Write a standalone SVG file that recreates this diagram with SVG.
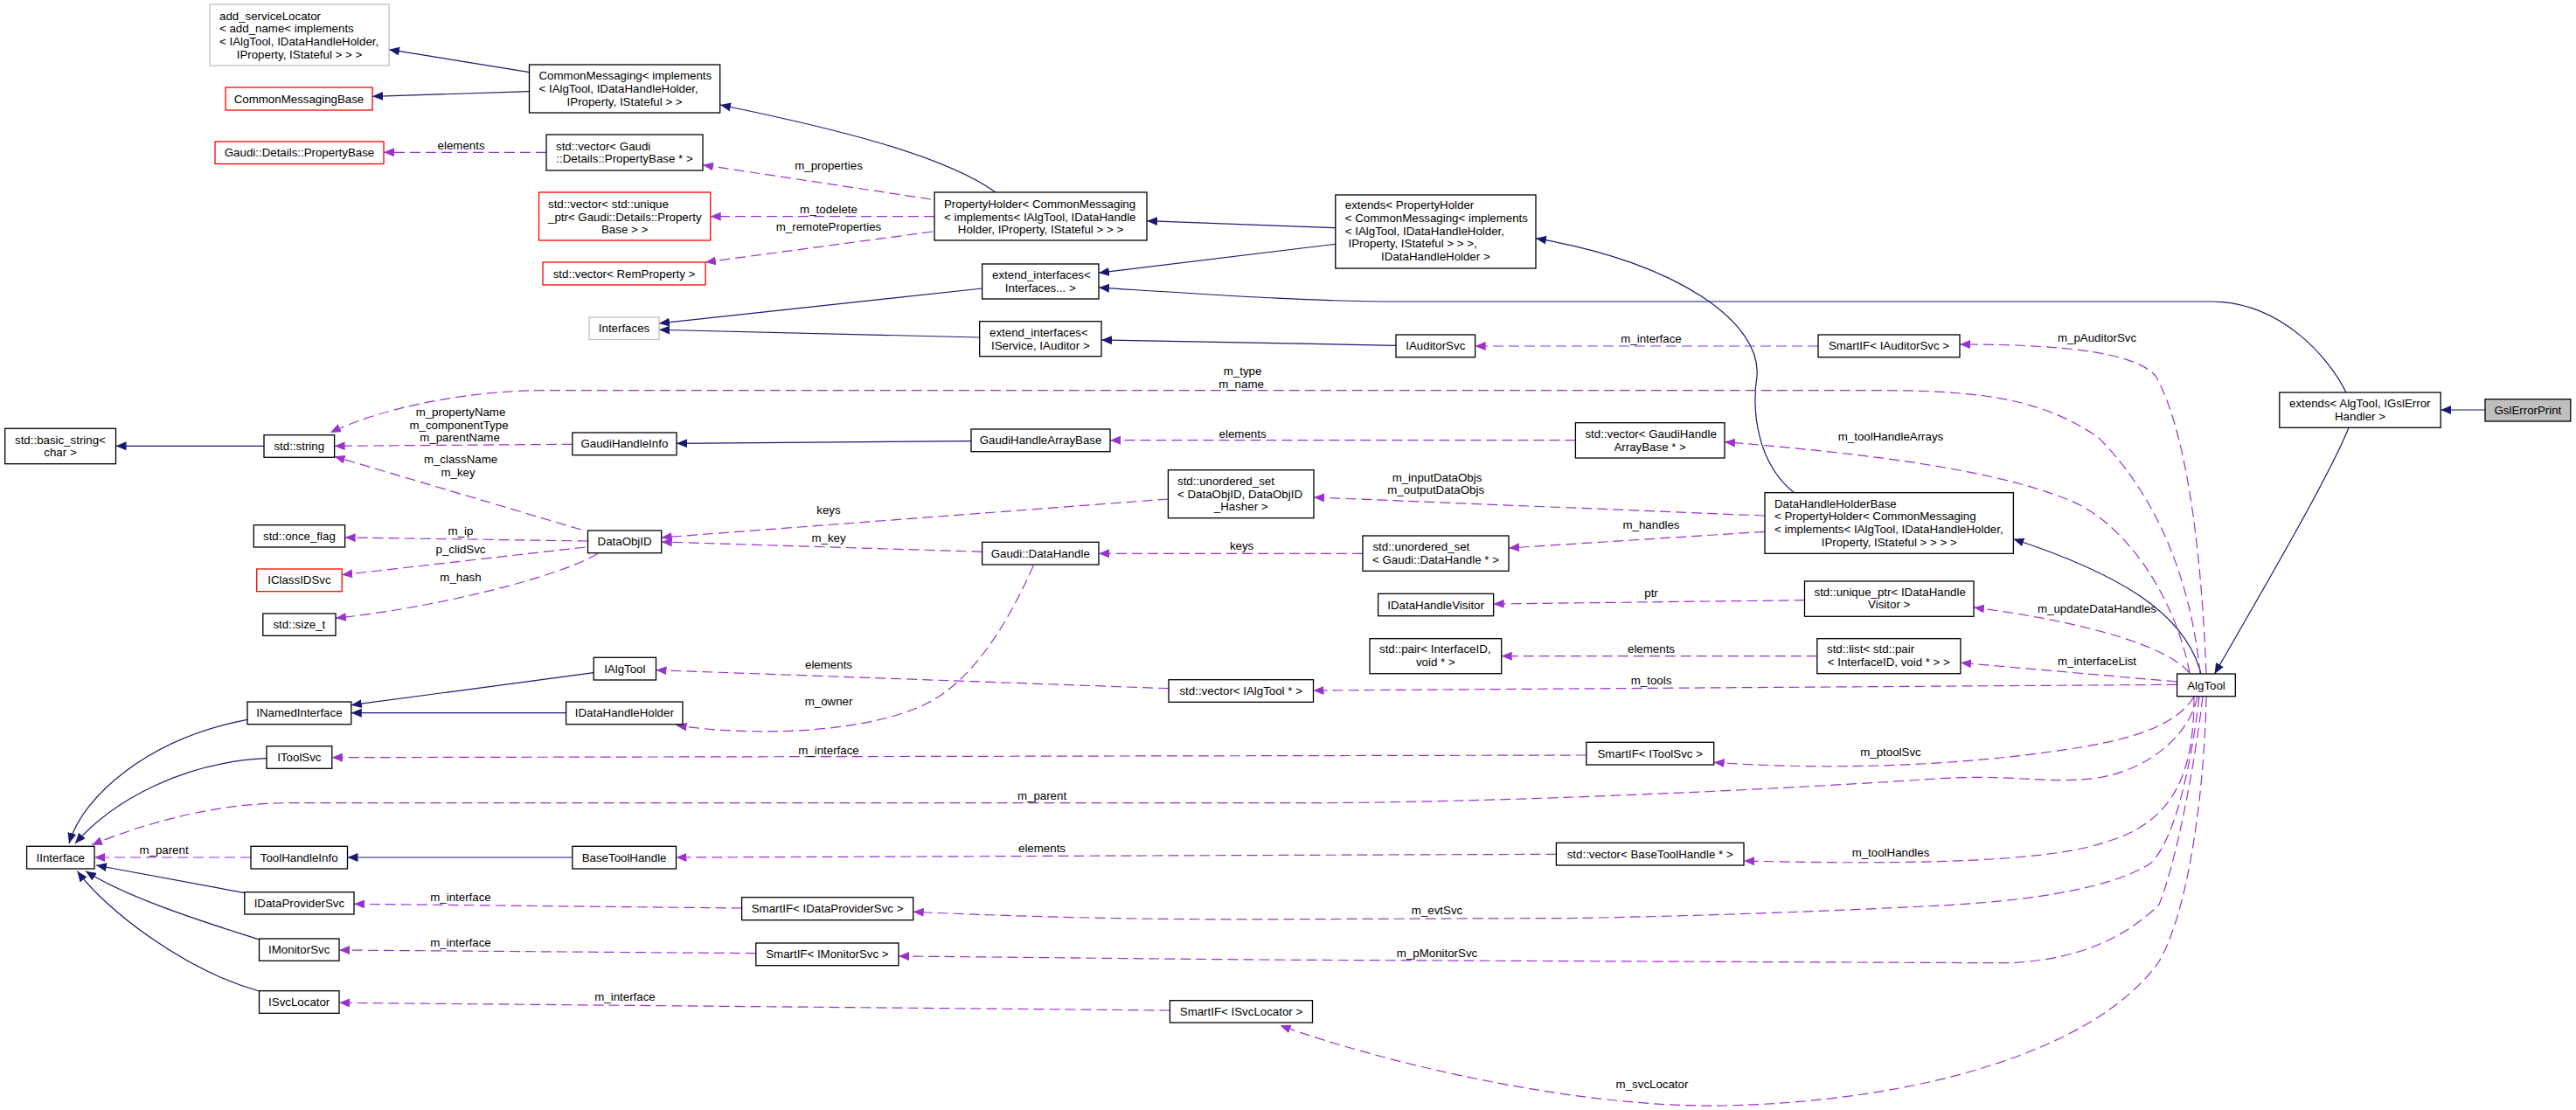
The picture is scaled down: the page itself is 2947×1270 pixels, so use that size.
<svg xmlns="http://www.w3.org/2000/svg" width="2947" height="1270" viewBox="0 0 2947 1270">
<style>
rect{fill:#fff;stroke:#000;stroke-width:1.3}
.r rect{stroke:#f00}
.g rect{stroke:#bfbfbf}
.s rect{fill:#bfbfbf}
text{font-family:"Liberation Sans",Arial,sans-serif;font-size:13.3px;fill:#000}
.c{text-anchor:middle}
.i{fill:none;stroke:#191970;stroke-width:1.2;marker-end:url(#ai)}
.u{fill:none;stroke:#9a32cd;stroke-width:1.2;stroke-dasharray:12,6;marker-end:url(#au)}
</style>
<defs>
<marker id="ai" viewBox="0 0 12 10" refX="12" refY="5" markerWidth="12" markerHeight="10" markerUnits="userSpaceOnUse" orient="auto"><path d="M0,0L12,5L0,10z" fill="#191970"/></marker>
<marker id="au" viewBox="0 0 12 10" refX="12" refY="5" markerWidth="12" markerHeight="10" markerUnits="userSpaceOnUse" orient="auto"><path d="M0,0L12,5L0,10z" fill="#9a32cd"/></marker>
</defs>
<rect x="0" y="0" width="2947" height="1270" style="fill:#fff;stroke:none"/>
<g id="edges">
<path class="i" d="M2843,469L2792.2,469"/>
<path class="i" d="M2687,489.3C2665,545 2580,690 2533.5,771"/>
<path class="i" d="M2518,771C2500,700 2420,655 2303.4,616.7"/>
<path class="i" d="M2052.5,563.7C2010,530 2004,470 2010,430C2015,370 1920,300 1757,272.7"/>
<path class="i" d="M1527.8,260.7L1312,252.7"/>
<path class="i" d="M1527.8,279.3L1257,312.3"/>
<path class="i" d="M1139,220C1080,178 960,148 824,120"/>
<path class="i" d="M605.5,82.7L445,56.7"/>
<path class="i" d="M605.5,104.7L426,110.3"/>
<path class="i" d="M2684,449C2665,410 2610,345 2528.7,345L1599.6,345C1500,345 1400,338 1257,329"/>
<path class="i" d="M1123.6,330L754,370"/>
<path class="i" d="M1120.7,386L754,377.3"/>
<path class="i" d="M1597,395.3L1260,389"/>
<path class="i" d="M302,510.3L132.5,510.3"/>
<path class="i" d="M1111,504.7L774,507.3"/>
<path class="i" d="M679.2,769.7L401.8,806.7"/>
<path class="i" d="M647.6,815.7L401.8,815.7"/>
<path class="i" d="M283,823.3C170,845 95,910 79,965"/>
<path class="i" d="M305,867.7C210,872 130,915 86,965"/>
<path class="i" d="M280,1021.7L110,990"/>
<path class="i" d="M296.5,1075C250,1060 150,1030 98,996.7"/>
<path class="i" d="M296.5,1134C210,1110 120,1040 88.5,996.7"/>
<path class="i" d="M654.8,981L397.5,981"/>

<path class="u" d="M625,174.3L439,174.3"/>
<text class="c" x="527.6" y="171">elements</text>
<path class="u" d="M1065,228L804,188.7"/>
<text class="c" x="948" y="193.5">m_properties</text>
<path class="u" d="M1069,247.7L812.7,247.7"/>
<text class="c" x="948" y="243.8">m_todelete</text>
<path class="u" d="M1067,265L807,300"/>
<text class="c" x="948" y="263.8">m_remoteProperties</text>
<path class="u" d="M2080,396L1687.6,396"/>
<text class="c" x="1889" y="392">m_interface</text>
<path class="u" d="M2524,771C2518,620 2500,490 2466,430C2440,400 2340,394 2242,394"/>
<text class="c" x="2399" y="391">m_pAuditorSvc</text>
<path class="u" d="M2517,771C2505,650 2460,560 2400,500C2340,460 2280,446.7 2150,446.7L622,446.7C540,446.7 440,465 377.9,495"/>
<text class="c" x="1421.6" y="429.2">m_type</text>
<text class="c" x="1420" y="443.5">m_name</text>
<path class="u" d="M654.8,508.3L382.6,510.3"/>
<text class="c" x="527" y="476.2">m_propertyName</text>
<text class="c" x="525" y="491.2">m_componentType</text>
<text class="c" x="526" y="505.2">m_parentName</text>
<path class="u" d="M664.8,606L382.6,522.3"/>
<text class="c" x="527" y="529.5">m_className</text>
<text class="c" x="524" y="544.5">m_key</text>
<path class="u" d="M672.5,619L394.6,615"/>
<text class="c" x="527" y="611.5">m_ip</text>
<path class="u" d="M669.6,626L391.2,657.7"/>
<text class="c" x="527" y="633.2">p_clidSvc</text>
<path class="u" d="M684,633.3C640,660 500,695 384,707.3"/>
<text class="c" x="527" y="664.8">m_hash</text>
<path class="u" d="M1802.4,503.7L1270,503.7"/>
<text class="c" x="1421.6" y="500.5">elements</text>
<path class="u" d="M2505,770C2490,690 2440,610 2380,578C2300,540 2150,520 1973,505.7"/>
<text class="c" x="2163" y="503.5">m_toolHandleArrays</text>
<path class="u" d="M1336.4,571L756.7,615"/>
<text class="c" x="948" y="588.2">keys</text>
<path class="u" d="M1123.6,631.3L756.7,620"/>
<text class="c" x="948" y="619.5">m_key</text>
<path class="u" d="M2019,590L1503,569"/>
<text class="c" x="1644" y="551.2">m_inputDataObjs</text>
<text class="c" x="1642.6" y="565.2">m_outputDataObjs</text>
<path class="u" d="M1559,633.3L1257,633.3"/>
<text class="c" x="1420.6" y="629.2">keys</text>
<path class="u" d="M2019,608.3L1726,627"/>
<text class="c" x="1889" y="605.2">m_handles</text>
<path class="u" d="M1182.4,646.7C1150,720 1110,780 1060,805C1000,835 880,845 773.5,830"/>
<text class="c" x="948" y="807.2">m_owner</text>
<path class="u" d="M1337,787.7L750.5,766.7"/>
<text class="c" x="948" y="765.2">elements</text>
<path class="u" d="M2064.5,686.7L1708.6,691"/>
<text class="c" x="1889" y="683.2">ptr</text>
<path class="u" d="M2505,770C2480,740 2390,712 2258,695"/>
<text class="c" x="2399" y="701.2">m_updateDataHandles</text>
<path class="u" d="M2078.8,750.7L1717.7,750.7"/>
<text class="c" x="1889" y="747.2">elements</text>
<path class="u" d="M2490.6,780L2243,758.3"/>
<text class="c" x="2399" y="761.2">m_interfaceList</text>
<path class="u" d="M2490.6,783.3L1502.5,790"/>
<text class="c" x="1889" y="783.2">m_tools</text>
<path class="u" d="M1814.8,864L379.8,866.7"/>
<text class="c" x="948" y="862.8">m_interface</text>
<path class="u" d="M2510,797C2490,830 2440,845 2380,855C2300,868 2150,885 1960.7,872.3"/>
<text class="c" x="2163" y="865.2">m_ptoolSvc</text>
<path class="u" d="M2514,797C2505,840 2460,880 2400,890C2340,898 2300,884 2200,892C2000,905 1700,918.7 1480,918.7L330,918.7C250,918.7 170,940 105,966.7"/>
<text class="c" x="1192" y="915.2">m_parent</text>
<path class="u" d="M1780.4,977.3L773.5,981"/>
<text class="c" x="1192" y="975.2">elements</text>
<path class="u" d="M2510,797C2510,880 2490,940 2410,963C2350,985 2200,990 1995,985"/>
<text class="c" x="2163" y="979.5">m_toolHandles</text>
<path class="u" d="M287,981L108,981"/>
<text class="c" x="187.5" y="977.2">m_parent</text>
<path class="u" d="M848.6,1039L405,1034.3"/>
<text class="c" x="527" y="1031.2">m_interface</text>
<path class="u" d="M2516,797C2505,890 2485,965 2460,988C2410,1020 2300,1033 2200,1037C2100,1042 1950,1048 1800,1050.5L1480,1051.7C1300,1053 1150,1048 1044.7,1043.3"/>
<text class="c" x="1644" y="1045.5">m_evtSvc</text>
<path class="u" d="M864.8,1090.7L388,1087"/>
<text class="c" x="527" y="1083.2">m_interface</text>
<path class="u" d="M2520,797C2510,880 2490,985 2470,1035C2420,1085 2350,1102 2286,1101.7L1480,1098.3C1300,1097 1150,1095 1028,1094"/>
<text class="c" x="1644" y="1095.2">m_pMonitorSvc</text>
<path class="u" d="M1338.4,1156L388,1147.3"/>
<text class="c" x="715" y="1145.2">m_interface</text>
<path class="u" d="M2524,797C2522,900 2505,1040 2470,1100C2400,1200 2200,1260 1972.6,1265C1800,1268 1580,1215 1464.6,1173.3"/>
<text class="c" x="1890" y="1244.5">m_svcLocator</text>
</g>

<g id="GslErrorPrint" class="s"><rect x="2843" y="456.7" width="97.8" height="25.3"/><text class="c" x="2891.9" y="473.5">GslErrorPrint</text></g>
<g id="extends_AlgTool"><rect x="2607.8" y="449" width="184.4" height="40.3"/><text x="2619" y="466">extends&lt; AlgTool, IGslError</text><text class="c" x="2700" y="480.7">Handler &gt;</text></g>
<g id="AlgTool"><rect x="2490.6" y="771" width="66.7" height="25.7"/><text class="c" x="2524" y="788.5">AlgTool</text></g>
<g id="DataHandleHolderBase"><rect x="2019" y="563.7" width="284.4" height="69.6"/><text x="2030" y="580.5">DataHandleHolderBase</text><text x="2030" y="595.2">&lt; PropertyHolder&lt; CommonMessaging</text><text x="2030" y="609.9">&lt; implements&lt; IAlgTool, IDataHandleHolder,</text><text class="c" x="2161.2" y="624.6">IProperty, IStateful &gt; &gt; &gt; &gt;</text></g>
<g id="extends_PropertyHolder"><rect x="1527.8" y="223" width="229.2" height="84"/><text x="1538.8" y="239.2">extends&lt; PropertyHolder</text><text x="1538.8" y="253.9">&lt; CommonMessaging&lt; implements</text><text x="1538.8" y="268.6">&lt; IAlgTool, IDataHandleHolder,</text><text x="1542.5" y="283.3">IProperty, IStateful &gt; &gt; &gt;,</text><text class="c" x="1642.4" y="298">IDataHandleHolder &gt;</text></g>
<g id="PropertyHolder"><rect x="1069" y="220" width="243" height="55"/><text x="1080" y="237.8">PropertyHolder&lt; CommonMessaging</text><text x="1080" y="252.5">&lt; implements&lt; IAlgTool, IDataHandle</text><text class="c" x="1190.5" y="267.2">Holder, IProperty, IStateful &gt; &gt; &gt;</text></g>
<g id="CommonMessaging"><rect x="605.5" y="74" width="218.2" height="55"/><text x="616.5" y="91.3">CommonMessaging&lt; implements</text><text x="616.5" y="106">&lt; IAlgTool, IDataHandleHolder,</text><text class="c" x="714.6" y="120.7">IProperty, IStateful &gt; &gt;</text></g>
<g id="add_serviceLocator" class="g"><rect x="240" y="5" width="205" height="70"/><text x="251" y="22.5">add_serviceLocator</text><text x="251" y="37.2">&lt; add_name&lt; implements</text><text x="251" y="51.8">&lt; IAlgTool, IDataHandleHolder,</text><text class="c" x="342.5" y="66.5">IProperty, IStateful &gt; &gt; &gt;</text></g>
<g id="CommonMessagingBase" class="r"><rect x="258" y="100" width="168" height="26"/><text class="c" x="342" y="117.5">CommonMessagingBase</text></g>
<g id="PropertyBase" class="r"><rect x="246" y="162" width="193" height="25.5"/><text class="c" x="342.5" y="179.3">Gaudi::Details::PropertyBase</text></g>
<g id="vector_PropertyBase"><rect x="625" y="154" width="179" height="41"/><text x="636" y="171.7">std::vector&lt; Gaudi</text><text class="c" x="714.5" y="186.3">::Details::PropertyBase * &gt;</text></g>
<g id="vector_unique_ptr" class="r"><rect x="616.5" y="220" width="196.2" height="55"/><text x="627" y="237.8">std::vector&lt; std::unique</text><text x="627" y="252.5">_ptr&lt; Gaudi::Details::Property</text><text class="c" x="714.6" y="267.2">Base &gt; &gt;</text></g>
<g id="vector_RemProperty" class="r"><rect x="621" y="300" width="186" height="26"/><text class="c" x="714" y="317.5">std::vector&lt; RemProperty &gt;</text></g>
<g id="Interfaces" class="g"><rect x="674" y="363" width="80" height="25.5"/><text class="c" x="714" y="380.3">Interfaces</text></g>
<g id="extend_interfaces_Interfaces"><rect x="1123.6" y="302" width="133.4" height="40"/><text x="1135" y="319.2">extend_interfaces&lt;</text><text class="c" x="1190.3" y="333.8">Interfaces... &gt;</text></g>
<g id="extend_interfaces_IService"><rect x="1120.7" y="367.7" width="139.3" height="40"/><text x="1132" y="384.8">extend_interfaces&lt;</text><text class="c" x="1190.3" y="399.5">IService, IAuditor &gt;</text></g>
<g id="IAuditorSvc"><rect x="1597" y="383" width="90.6" height="25.7"/><text class="c" x="1642.3" y="400.3">IAuditorSvc</text></g>
<g id="SmartIF_IAuditorSvc"><rect x="2080" y="383" width="162" height="25.7"/><text class="c" x="2161" y="400.3">SmartIF&lt; IAuditorSvc &gt;</text></g>
<g id="basic_string"><rect x="5.7" y="490.3" width="126.8" height="40.4"/><text x="17" y="507.7">std::basic_string&lt;</text><text class="c" x="69" y="522.3">char &gt;</text></g>
<g id="std_string"><rect x="302" y="497.7" width="80.6" height="25.6"/><text class="c" x="342.3" y="515">std::string</text></g>
<g id="GaudiHandleInfo"><rect x="654.8" y="495" width="119.2" height="25.7"/><text class="c" x="714.4" y="512.3">GaudiHandleInfo</text></g>
<g id="GaudiHandleArrayBase"><rect x="1111" y="491" width="159" height="25.7"/><text class="c" x="1190.5" y="508.3">GaudiHandleArrayBase</text></g>
<g id="vector_GaudiHandleArrayBase"><rect x="1802.4" y="483.7" width="170.6" height="40.3"/><text x="1813.4" y="501">std::vector&lt; GaudiHandle</text><text class="c" x="1887.7" y="515.7">ArrayBase * &gt;</text></g>
<g id="unordered_set_DataObjID"><rect x="1336.4" y="537.7" width="166.6" height="55"/><text x="1347" y="555">std::unordered_set</text><text x="1347" y="569.7">&lt; DataObjID, DataObjID</text><text class="c" x="1419.7" y="584.4">_Hasher &gt;</text></g>
<g id="DataObjID"><rect x="672.5" y="607" width="84.2" height="25.7"/><text class="c" x="714.6" y="624.3">DataObjID</text></g>
<g id="once_flag"><rect x="290.3" y="600.7" width="104.3" height="25.3"/><text class="c" x="342.4" y="617.8">std::once_flag</text></g>
<g id="IClassIDSvc" class="r"><rect x="293.7" y="651" width="97.5" height="25.7"/><text class="c" x="342.4" y="668.3">IClassIDSvc</text></g>
<g id="size_t"><rect x="300.8" y="702" width="83.2" height="25.3"/><text class="c" x="342.4" y="719.2">std::size_t</text></g>
<g id="DataHandle"><rect x="1123.6" y="620.3" width="133.4" height="25.7"/><text class="c" x="1190.3" y="637.6">Gaudi::DataHandle</text></g>
<g id="unordered_set_DataHandle"><rect x="1559" y="613" width="167" height="40.3"/><text x="1570.4" y="630.3">std::unordered_set</text><text class="c" x="1642.5" y="645">&lt; Gaudi::DataHandle * &gt;</text></g>
<g id="IDataHandleVisitor"><rect x="1576.6" y="679.3" width="132" height="25.4"/><text class="c" x="1642.6" y="696.5">IDataHandleVisitor</text></g>
<g id="unique_ptr_IDataHandleVisitor"><rect x="2064.5" y="665" width="193.5" height="40.3"/><text x="2075.5" y="681.6">std::unique_ptr&lt; IDataHandle</text><text class="c" x="2161.2" y="696.3">Visitor &gt;</text></g>
<g id="pair_InterfaceID"><rect x="1567" y="730.7" width="150.7" height="40"/><text x="1578" y="747.3">std::pair&lt; InterfaceID,</text><text class="c" x="1642.3" y="762">void * &gt;</text></g>
<g id="list_pair"><rect x="2078.8" y="730.7" width="164.1" height="40"/><text x="2090" y="747.3">std::list&lt; std::pair</text><text class="c" x="2160.8" y="762">&lt; InterfaceID, void * &gt; &gt;</text></g>
<g id="IAlgTool"><rect x="679.2" y="752.3" width="71.3" height="25.7"/><text class="c" x="714.8" y="769.6">IAlgTool</text></g>
<g id="vector_IAlgTool"><rect x="1337" y="777.7" width="165.5" height="25.6"/><text class="c" x="1419.7" y="795">std::vector&lt; IAlgTool * &gt;</text></g>
<g id="INamedInterface"><rect x="283" y="803" width="118.8" height="25.7"/><text class="c" x="342.4" y="820.3">INamedInterface</text></g>
<g id="IDataHandleHolder"><rect x="647.6" y="803" width="133.4" height="25.7"/><text class="c" x="714.3" y="820.3">IDataHandleHolder</text></g>
<g id="IToolSvc"><rect x="305" y="853.7" width="74.8" height="25.6"/><text class="c" x="342.4" y="871">IToolSvc</text></g>
<g id="SmartIF_IToolSvc"><rect x="1814.8" y="849.3" width="145.9" height="25.7"/><text class="c" x="1887.7" y="866.6">SmartIF&lt; IToolSvc &gt;</text></g>
<g id="IInterface"><rect x="30.6" y="968.3" width="77.4" height="25.7"/><text class="c" x="69.3" y="985.6">IInterface</text></g>
<g id="ToolHandleInfo"><rect x="287" y="968.3" width="110.5" height="25.7"/><text class="c" x="342.2" y="985.6">ToolHandleInfo</text></g>
<g id="BaseToolHandle"><rect x="654.8" y="968.3" width="118.7" height="25.7"/><text class="c" x="714.1" y="985.6">BaseToolHandle</text></g>
<g id="vector_BaseToolHandle"><rect x="1780.4" y="964.3" width="214.6" height="25.7"/><text class="c" x="1887.7" y="981.6">std::vector&lt; BaseToolHandle * &gt;</text></g>
<g id="IDataProviderSvc"><rect x="279.8" y="1020.7" width="125.2" height="25.3"/><text class="c" x="342.4" y="1037.8">IDataProviderSvc</text></g>
<g id="SmartIF_IDataProviderSvc"><rect x="848.6" y="1026.7" width="196.1" height="26"/><text class="c" x="946.6" y="1044">SmartIF&lt; IDataProviderSvc &gt;</text></g>
<g id="IMonitorSvc"><rect x="296.5" y="1074" width="91.5" height="25.3"/><text class="c" x="342.2" y="1091.2">IMonitorSvc</text></g>
<g id="SmartIF_IMonitorSvc"><rect x="864.8" y="1079" width="163.2" height="25.7"/><text class="c" x="946.4" y="1096.3">SmartIF&lt; IMonitorSvc &gt;</text></g>
<g id="ISvcLocator"><rect x="296.5" y="1133.7" width="91.5" height="25.6"/><text class="c" x="342.2" y="1151">ISvcLocator</text></g>
<g id="SmartIF_ISvcLocator"><rect x="1338.4" y="1144.7" width="163.1" height="25.3"/><text class="c" x="1420" y="1161.8">SmartIF&lt; ISvcLocator &gt;</text></g>
</svg>
